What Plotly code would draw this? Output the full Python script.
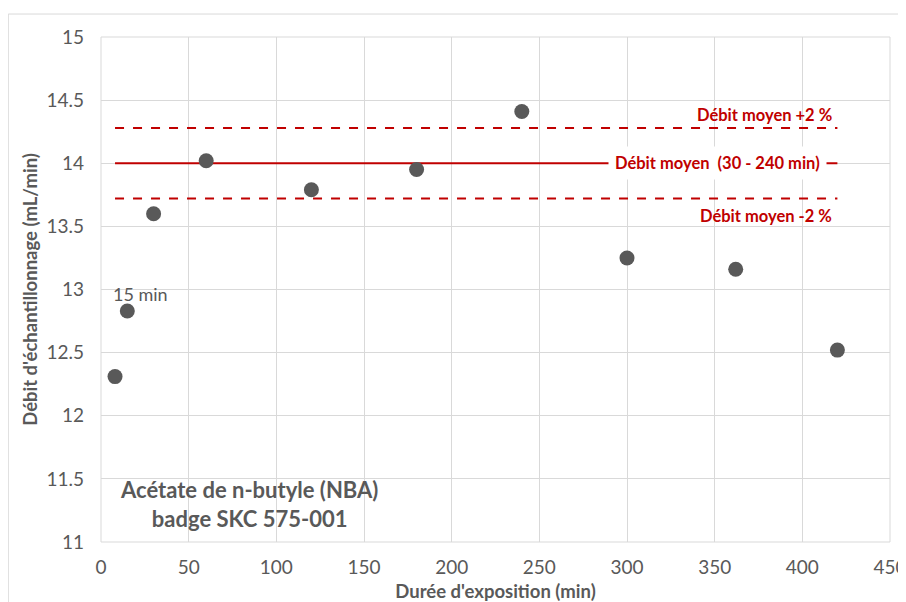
import plotly.graph_objects as go

# Data
duree = [8, 15, 30, 60, 120, 180, 240, 300, 362, 420]
debit = [12.31, 12.83, 13.60, 14.02, 13.79, 13.95, 14.41, 13.25, 13.16, 12.52]
moyen = 14.00
moyen_plus = 14.28
moyen_moins = 13.72
ligne_x = [8, 420]

x_ticks = [0, 50, 100, 150, 200, 250, 300, 350, 400, 450]
y_ticks = [11, 11.5, 12, 12.5, 13, 13.5, 14, 14.5, 15]

FONT = "Lato"
GRAY = "#595959"
RED = "#C00000"

fig = go.Figure()

fig.add_trace(go.Scatter(x=ligne_x, y=[moyen_plus, moyen_plus], mode="lines",
                         line=dict(color=RED, width=2, dash="dash"), showlegend=False, hoverinfo="skip"))
fig.add_trace(go.Scatter(x=ligne_x, y=[moyen_moins, moyen_moins], mode="lines",
                         line=dict(color=RED, width=2, dash="dash"), showlegend=False, hoverinfo="skip"))
fig.add_trace(go.Scatter(x=ligne_x, y=[moyen, moyen], mode="lines",
                         line=dict(color=RED, width=2), showlegend=False, hoverinfo="skip"))
fig.add_trace(go.Scatter(x=duree, y=debit, mode="markers",
                         marker=dict(color=GRAY, size=15), showlegend=False))

fig.add_annotation(x=420, y=moyen_plus, xanchor="right", yanchor="bottom", xshift=-3, yshift=1,
                   text="<b>Débit moyen +2 %</b>", showarrow=False,
                   font=dict(family=FONT, size=16.5, color=RED))
fig.add_annotation(x=420, y=moyen, xanchor="right", yanchor="middle", xshift=-10,
                   text="<b>Débit moyen  (30 - 240 min)</b>", showarrow=False, bgcolor="white",
                   borderpad=6,
                   font=dict(family=FONT, size=16.5, color=RED))
fig.add_annotation(x=420, y=moyen_moins, xanchor="right", yanchor="top", xshift=-3, yshift=-5,
                   text="<b>Débit moyen -2 %</b>", showarrow=False,
                   font=dict(family=FONT, size=16.5, color=RED))
fig.add_annotation(x=15, y=12.83, xanchor="center", yanchor="middle", yshift=17, xshift=13,
                   text="15 min", showarrow=False,
                   font=dict(family=FONT, size=18, color=GRAY))
fig.add_annotation(x=84.5, y=11.30, xanchor="center", yanchor="middle",
                   text="<b>Acétate de n-butyle (NBA)<br>badge SKC 575-001</b>", showarrow=False,
                   font=dict(family=FONT, size=22, color=GRAY))

fig.add_shape(type="rect", xref="paper", yref="paper", x0=-0.1175, x1=1.05, y0=-0.2, y1=1.0455,
              line=dict(color="#d9d9d9", width=1), layer="below")

fig.update_xaxes(range=[0, 450], tickvals=x_ticks, showgrid=True, gridcolor="#d9d9d9", gridwidth=1,
                 zeroline=False, showline=False, ticks="", automargin=False, ticklabelstandoff=12,
                 ticklabeloverflow="allow",
                 tickfont=dict(family=FONT, size=19, color=GRAY),
                 title=dict(text="<b>Durée d'exposition (min)</b>", standoff=11,
                            font=dict(family=FONT, size=18.5, color=GRAY)))
fig.update_yaxes(range=[11, 15], tickvals=y_ticks, showgrid=True, gridcolor="#d9d9d9", gridwidth=1,
                 zeroline=False, showline=False, ticks="", automargin=False, ticklabelstandoff=16,
                 tickfont=dict(family=FONT, size=19, color=GRAY),
                 title=dict(text="<b>Débit d'échantillonnage (mL/min)</b>", standoff=3,
                            font=dict(family=FONT, size=18.5, color=GRAY)))

fig.add_shape(type="rect", xref="paper", yref="paper", x0=0, x1=1, y0=0, y1=1,
              line=dict(color="#d9d9d9", width=1), layer="below")

fig.update_layout(width=898, height=594, margin=dict(l=93, r=16, t=29, b=60),
                  plot_bgcolor="white", paper_bgcolor="white",
                  font=dict(family=FONT, color=GRAY))

fig.write_html("out.html")
